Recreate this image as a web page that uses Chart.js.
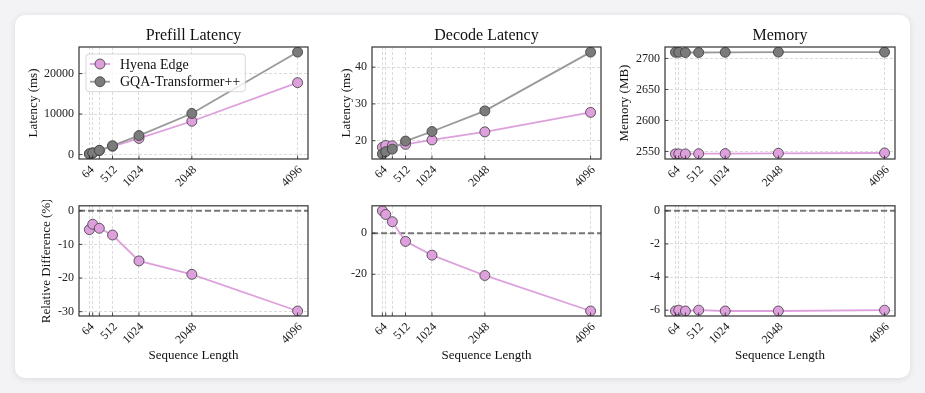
<!DOCTYPE html>
<html>
<head>
<meta charset="utf-8">
<script src="https://cdn.jsdelivr.net/npm/chart.js@4.4.1/dist/chart.umd.min.js"></script>
<style>
  html, body { margin: 0; padding: 0; background: #f3f3f5; }
  body { width: 925px; height: 393px; position: relative; overflow: hidden; }
  .card {
    position: absolute; left: 15px; top: 15px; width: 895px; height: 363px;
    background: #fff; border-radius: 10px;
    box-shadow: 0 1px 7px rgba(0, 0, 0, 0.10);
  }
  canvas { position: absolute; }
</style>
</head>
<body>
<div class="card"></div>
<canvas id="prefill" width="301" height="186" style="left:17px;top:14px"></canvas>
<canvas id="decode" width="301" height="186" style="left:310px;top:14px"></canvas>
<canvas id="memory" width="302" height="186" style="left:603px;top:14px"></canvas>
<canvas id="prefillRel" width="301" height="178" style="left:17px;top:200px"></canvas>
<canvas id="decodeRel" width="301" height="178" style="left:310px;top:200px"></canvas>
<canvas id="memoryRel" width="302" height="178" style="left:603px;top:200px"></canvas>
<script>
// sequence lengths (x) and which of them get a label
const SEQ_LENGTHS = [64, 128, 256, 512, 1024, 2048, 4096];
const LABELED_LENGTHS = [64, 512, 1024, 2048, 4096];

// prefill latency (ms)
const PREFILL_HYENA = [170, 403, 995, 2042, 4000, 8232, 17760];
const PREFILL_GQA = [180, 420, 1050, 2200, 4700, 10150, 25300];
const PREFILL_REL = [-5.6, -4.0, -5.2, -7.2, -14.9, -18.9, -29.8];

// decode latency (ms)
const DECODE_HYENA = [18.2, 18.7, 18.6, 19.0, 20.2, 22.4, 27.7];
const DECODE_GQA = [16.4, 17.0, 17.7, 19.9, 22.5, 28.1, 44.1];
const DECODE_REL = [10.9, 9.1, 5.6, -4.0, -10.7, -20.6, -37.9];

// memory (MB)
const MEMORY_HYENA = [2546.0, 2546.0, 2546.0, 2546.3, 2546.5, 2547.0, 2547.5];
const MEMORY_GQA = [2710.0, 2710.0, 2709.5, 2709.6, 2710.0, 2710.3, 2710.3];
const MEMORY_REL = [-6.05, -6.0, -6.05, -6.0, -6.05, -6.05, -6.0];

// y tick values
const PREFILL_TICKS = [0, 10000, 20000];
const DECODE_TICKS = [20, 30, 40];
const MEMORY_TICKS = [2550, 2600, 2650, 2700];
const PREFILL_REL_TICKS = [-30, -20, -10, 0];
const DECODE_REL_TICKS = [-20, 0];
const MEMORY_REL_TICKS = [-6, -4, -2, 0];

const FONT = '"Liberation Serif", "DejaVu Serif", serif';
const HYENA = { label: 'Hyena Edge', line: '#dda0dd', fill: '#dda0dd' };
const GQA = { label: 'GQA-Transformer++', line: '#999999', fill: '#7b7b7b' };

Chart.defaults.font.family = FONT;
Chart.defaults.color = '#222';

// matplotlib-style 5% margins
function paddedRange(values) {
  const lo = Math.min(...values);
  const hi = Math.max(...values);
  const m = (hi - lo) * 0.05;
  return { min: lo - m, max: hi + m };
}

// frame, inward ticks and the dashed zero line
const axesDecor = {
  id: 'axesDecor',
  beforeDatasetsDraw(chart, args, opts) {
    if (opts.zeroLine === undefined) return;
    const { ctx, chartArea, scales } = chart;
    const y = scales.y.getPixelForValue(opts.zeroLine);
    ctx.save();
    ctx.strokeStyle = 'rgba(105,105,105,0.9)';
    ctx.lineWidth = 2;
    ctx.setLineDash([6, 3]);
    ctx.beginPath();
    ctx.moveTo(chartArea.left, y);
    ctx.lineTo(chartArea.right, y);
    ctx.stroke();
    ctx.restore();
  },
  afterDraw(chart) {
    const { ctx, chartArea: a, scales } = chart;
    ctx.save();
    ctx.strokeStyle = '#222';
    ctx.lineWidth = 0.8;
    ctx.beginPath();
    scales.x.ticks.forEach(t => {
      const px = scales.x.getPixelForValue(t.value);
      ctx.moveTo(px, a.bottom);
      ctx.lineTo(px, a.bottom - 3.5);
    });
    scales.y.ticks.forEach(t => {
      const py = scales.y.getPixelForValue(t.value);
      ctx.moveTo(a.left, py);
      ctx.lineTo(a.left + 3.5, py);
    });
    ctx.stroke();
    ctx.strokeStyle = '#333';
    ctx.lineWidth = 1.2;
    ctx.strokeRect(a.left, a.top, a.right - a.left, a.bottom - a.top);
    ctx.restore();
  }
};

// legend drawn inside the axes, upper left
const insetLegend = {
  id: 'insetLegend',
  afterDraw(chart, args, opts) {
    if (!opts.show) return;
    const { ctx, chartArea } = chart;
    const sets = chart.data.datasets;
    ctx.save();
    ctx.font = '14px ' + FONT;
    const textW = Math.max(...sets.map(d => ctx.measureText(d.label).width));
    const x0 = chartArea.left + 7;
    const y0 = chartArea.top + 7;
    const rowH = 17.7;
    const w = 34 + textW + 5;
    const h = 20 + rowH * (sets.length - 1);
    ctx.beginPath();
    ctx.roundRect(x0, y0, w, h, 3);
    ctx.fillStyle = 'rgba(255,255,255,0.8)';
    ctx.fill();
    ctx.strokeStyle = '#cccccc';
    ctx.lineWidth = 0.8;
    ctx.stroke();
    sets.forEach((d, i) => {
      const cy = y0 + 10 + rowH * i;
      ctx.strokeStyle = d.borderColor;
      ctx.lineWidth = d.borderWidth;
      ctx.beginPath();
      ctx.moveTo(x0 + 4, cy);
      ctx.lineTo(x0 + 24, cy);
      ctx.stroke();
      ctx.beginPath();
      ctx.arc(x0 + 14, cy, d.pointRadius, 0, Math.PI * 2);
      ctx.fillStyle = d.pointBackgroundColor;
      ctx.fill();
      ctx.strokeStyle = d.pointBorderColor;
      ctx.lineWidth = d.pointBorderWidth;
      ctx.stroke();
      ctx.fillStyle = '#111';
      ctx.textBaseline = 'middle';
      ctx.fillText(d.label, x0 + 34, cy + 1);
    });
    ctx.restore();
  }
};

function series(style, values, order) {
  return {
    label: style.label,
    data: SEQ_LENGTHS.map((x, i) => ({ x: x, y: values[i] })),
    borderColor: style.line,
    borderWidth: 1.8,
    pointBackgroundColor: style.fill,
    pointBorderColor: '#3a3a3a',
    pointBorderWidth: 0.8,
    pointRadius: 5,
    order: order
  };
}

function makePanel(id, cfg) {
  const xr = paddedRange(SEQ_LENGTHS);
  const yr = paddedRange(cfg.rangeValues);
  const bottomRow = !!cfg.xTitle;
  new Chart(document.getElementById(id), {
    type: 'line',
    data: { datasets: cfg.datasets },
    plugins: [axesDecor, insetLegend],
    options: {
      responsive: false,
      animation: false,
      events: [],
      layout: { padding: { left: 0, right: 10, top: bottomRow ? 4 : 0, bottom: 0 } },
      plugins: {
        legend: { display: false },
        tooltip: { enabled: false },
        title: {
          display: !!cfg.title,
          text: cfg.title,
          fullSize: false,
          color: '#111',
          font: { size: 16, weight: 'normal' },
          padding: { top: 12, bottom: 1.8 }
        },
        axesDecor: { zeroLine: cfg.zeroLine },
        insetLegend: { show: !!cfg.legend }
      },
      scales: {
        x: {
          type: 'linear',
          min: xr.min,
          max: xr.max,
          afterBuildTicks: s => { s.ticks = SEQ_LENGTHS.map(v => ({ value: v })); },
          afterFit: s => { s.height = bottomRow ? 62 : 41; s.paddingLeft = 0; s.paddingRight = 0; },
          ticks: {
            autoSkip: false,
            minRotation: 45,
            maxRotation: 45,
            padding: 4,
            labelOffset: 3,
            font: { size: 12 },
            callback: v => LABELED_LENGTHS.includes(v) ? String(v) : ''
          },
          grid: { color: '#d0d0d0', lineWidth: 0.8, drawTicks: false },
          border: { display: false, dash: [3, 2] },
          title: {
            display: bottomRow,
            text: cfg.xTitle,
            color: '#111',
            font: { size: 13 },
            padding: { top: 0, bottom: 15 }
          }
        },
        y: {
          type: 'linear',
          min: yr.min,
          max: yr.max,
          afterBuildTicks: s => { s.ticks = cfg.yTicks.map(v => ({ value: v })); },
          afterFit: s => { s.width = 62; s.paddingTop = 0; s.paddingBottom = 0; },
          ticks: {
            padding: 5,
            font: { size: 12 },
            callback: v => String(v)
          },
          grid: { color: '#d0d0d0', lineWidth: 0.8, drawTicks: false },
          border: { display: false, dash: [3, 2] },
          title: {
            display: !!cfg.yTitle,
            text: cfg.yTitle,
            color: '#111',
            font: { size: 13 },
            padding: { top: cfg.yTitlePad || 0, bottom: 0 }
          }
        }
      }
    }
  });
}

makePanel('prefill', {
  title: 'Prefill Latency',
  yTitle: 'Latency (ms)',
  yTitlePad: 8.5,
  legend: true,
  yTicks: PREFILL_TICKS,
  rangeValues: PREFILL_HYENA.concat(PREFILL_GQA),
  datasets: [series(HYENA, PREFILL_HYENA, 1), series(GQA, PREFILL_GQA, 0)]
});
makePanel('decode', {
  title: 'Decode Latency',
  yTitle: 'Latency (ms)',
  yTitlePad: 28.9,
  yTicks: DECODE_TICKS,
  rangeValues: DECODE_HYENA.concat(DECODE_GQA),
  datasets: [series(HYENA, DECODE_HYENA, 1), series(GQA, DECODE_GQA, 0)]
});
makePanel('memory', {
  title: 'Memory',
  yTitle: 'Memory (MB)',
  yTitlePad: 14.2,
  yTicks: MEMORY_TICKS,
  rangeValues: MEMORY_HYENA.concat(MEMORY_GQA),
  datasets: [series(HYENA, MEMORY_HYENA, 1), series(GQA, MEMORY_GQA, 0)]
});
makePanel('prefillRel', {
  yTitle: 'Relative Difference (%)',
  yTitlePad: 21.9,
  xTitle: 'Sequence Length',
  zeroLine: 0,
  yTicks: PREFILL_REL_TICKS,
  rangeValues: PREFILL_REL.concat([0]),
  datasets: [series(HYENA, PREFILL_REL, 0)]
});
makePanel('decodeRel', {
  xTitle: 'Sequence Length',
  zeroLine: 0,
  yTicks: DECODE_REL_TICKS,
  rangeValues: DECODE_REL.concat([0]),
  datasets: [series(HYENA, DECODE_REL, 0)]
});
makePanel('memoryRel', {
  xTitle: 'Sequence Length',
  zeroLine: 0,
  yTicks: MEMORY_REL_TICKS,
  rangeValues: MEMORY_REL.concat([0]),
  datasets: [series(HYENA, MEMORY_REL, 0)]
});
</script>
</body>
</html>
